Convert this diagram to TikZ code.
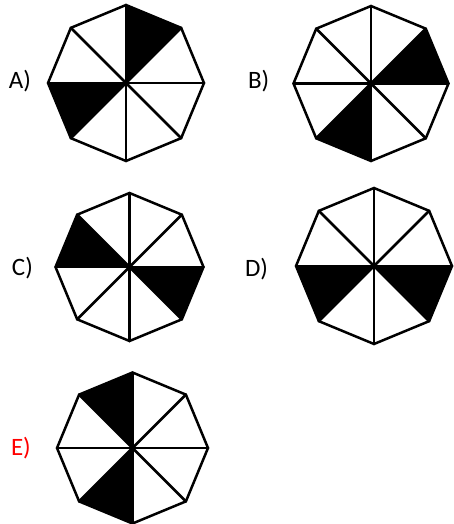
\documentclass[tikz,border=0pt]{standalone}
\usepackage{fontspec}
\setmainfont{Carlito}
\definecolor{ansred}{RGB}{255,0,0}
\tikzset{
  octline/.style={line width=2.5pt, line join=miter, line cap=round},
  sector/.style={fill=black},
  lbl/.style={font=\fontsize{25}{25}\selectfont, anchor=base west, inner sep=0pt, outer sep=0pt}
}
% #1 name, #2 cx, #3 cy, #4 radius, #5 list of black sectors (visual ccw, sector k spans 45k..45(k+1) deg)
\newcommand\myocta[5]{%
  \coordinate (#1) at (#2,#3);
  \begin{scope}[shift={(#1)}]
    \foreach \s in {#5}{\fill[sector] (0,0) -- ({-45*\s}:#4) -- ({-45*(\s+1)}:#4) -- cycle;}
    \foreach \a in {0,45,90,135}{\draw[octline] (\a:#4) -- (\a+180:#4);}
    \draw[octline] (0:#4) -- (45:#4) -- (90:#4) -- (135:#4) -- (180:#4) -- (225:#4) -- (270:#4) -- (315:#4) -- cycle;
  \end{scope}}
\begin{document}
\begin{tikzpicture}[x=1pt,y=-1pt]
  \useasboundingbox (0,0) rectangle (453,524);
  \myocta{oA}{126}{83}{78}{1,4}
  \myocta{oB}{371}{83.5}{77.5}{0,5}
  \myocta{oC}{129.5}{267}{74}{3,7}
  \myocta{oD}{374}{266}{78}{4,7}
  \myocta{oE}{132.5}{448}{75.5}{2,5}
  \node[lbl] (lA) at (9,89) {A)};
  \node[lbl] (lB) at (248,89) {B)};
  \node[lbl] (lC) at (12,275) {C)};
  \node[lbl] (lD) at (245,276) {D)};
  \node[lbl, text=ansred] (lE) at (11,455) {E)};
\end{tikzpicture}
\end{document}
